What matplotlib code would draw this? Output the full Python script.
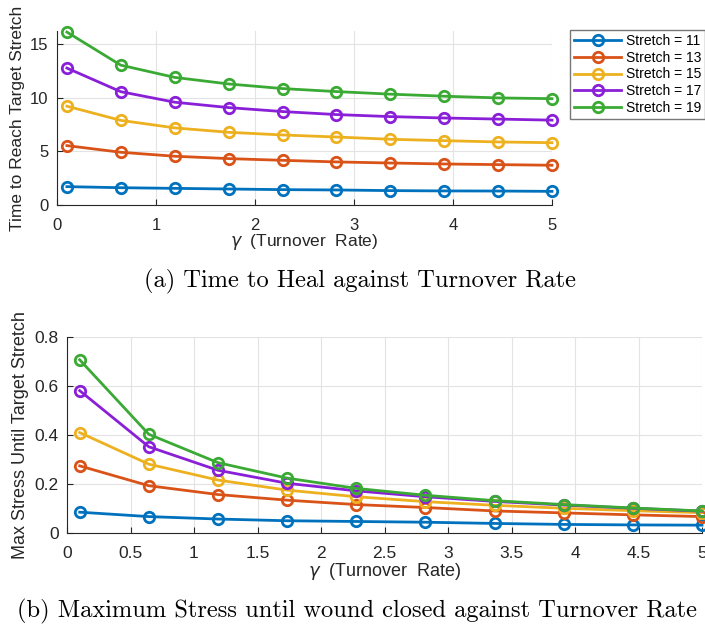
import matplotlib.pyplot as plt
import numpy as np

gamma = [0.1, 0.644, 1.189, 1.733, 2.278, 2.822, 3.367, 3.911, 4.456, 5.0]
stretch_labels = ["Stretch = 11", "Stretch = 13", "Stretch = 15", "Stretch = 17", "Stretch = 19"]
colors = ["#0072BD", "#D95319", "#EDB120", "#8A1FD8", "#3BAA35"]

# time to reach target stretch
time_heal = [
    [1.71, 1.61, 1.55, 1.49, 1.43, 1.40, 1.34, 1.31, 1.30, 1.27],
    [5.53, 4.91, 4.54, 4.32, 4.16, 4.01, 3.91, 3.82, 3.76, 3.70],
    [9.20, 7.88, 7.18, 6.77, 6.52, 6.33, 6.12, 5.99, 5.87, 5.80],
    [12.75, 10.55, 9.57, 9.07, 8.70, 8.42, 8.23, 8.10, 8.00, 7.90],
    [16.10, 13.02, 11.88, 11.27, 10.84, 10.56, 10.32, 10.13, 9.97, 9.90],
]

# max stress until target stretch
max_stress = [
    [0.085, 0.067, 0.057, 0.050, 0.047, 0.044, 0.039, 0.035, 0.033, 0.032],
    [0.274, 0.193, 0.157, 0.134, 0.116, 0.104, 0.090, 0.082, 0.074, 0.067],
    [0.410, 0.281, 0.216, 0.175, 0.148, 0.128, 0.113, 0.101, 0.091, 0.083],
    [0.581, 0.352, 0.256, 0.203, 0.172, 0.148, 0.129, 0.114, 0.101, 0.089],
    [0.707, 0.403, 0.287, 0.224, 0.182, 0.154, 0.132, 0.116, 0.102, 0.090],
]

W, H = 705, 628
fig = plt.figure(figsize=(W / 100, H / 100), dpi=100)
plt.rcParams['font.family'] = ['Liberation Sans', 'DejaVu Sans']


def style_axes(ax, fs):
    ax.grid(True, color='#e3e3e3', linewidth=0.8)
    ax.set_axisbelow(True)
    ax.spines['top'].set_visible(False)
    ax.spines['right'].set_visible(False)
    for s in ['left', 'bottom']:
        ax.spines[s].set_color('#262626')
        ax.spines[s].set_linewidth(0.8)
    ax.tick_params(direction='in', length=4, labelsize=fs, colors='#262626', pad=6)
    ax.tick_params(axis='x', pad=9)


# panel a
ax1 = fig.add_axes([57 / W, 1 - 205 / H, (552 - 57) / W, (205 - 31) / H])
for i in range(len(time_heal)):
    ax1.plot(gamma, time_heal[i], '-o', color=colors[i], lw=2, ms=7.5, mfc='none', mew=2,
             label=stretch_labels[i], clip_on=False)
ax1.set_xlim(0, 5)
ax1.set_ylim(0, 16.2)
ax1.set_xticks([0, 1, 2, 3, 4, 5])
ax1.set_yticks([0, 5, 10, 15])
style_axes(ax1, 12)
ax1.set_ylabel('Time to Reach Target Stretch', fontsize=12.5, color='#262626', labelpad=4)
ax1.set_xlabel(r'$\gamma$  (Turnover  Rate)', fontsize=12.5, color='#262626', labelpad=0)
ax1.legend(loc='upper left', bbox_to_anchor=(570 / W, 1 - 30 / H), bbox_transform=fig.transFigure,
           fontsize=10, frameon=True, fancybox=False, edgecolor='#555555', borderpad=0.3,
           labelspacing=0.19, handlelength=3.4, handletextpad=0.3, borderaxespad=0)

# panel b
ax2 = fig.add_axes([67 / W, 1 - 533 / H, (702 - 67) / W, (533 - 337) / H])
for i in range(len(max_stress)):
    ax2.plot(gamma, max_stress[i], '-o', color=colors[i], lw=2, ms=7.5, mfc='none', mew=2,
             clip_on=False)
ax2.set_xlim(0, 5)
ax2.set_ylim(0, 0.8)
ax2.set_xticks(np.arange(0, 5.01, 0.5))
ax2.set_xticklabels(['0', '0.5', '1', '1.5', '2', '2.5', '3', '3.5', '4', '4.5', '5'])
ax2.set_yticks([0, 0.2, 0.4, 0.6, 0.8])
ax2.set_yticklabels(['0', '0.2', '0.4', '0.6', '0.8'])
style_axes(ax2, 12.5)
ax2.set_ylabel('Max Stress Until Target Stretch', fontsize=13, color='#262626', labelpad=4)
ax2.set_xlabel(r'$\gamma$  (Turnover  Rate)', fontsize=13, color='#262626', labelpad=0)

fig.text(360 / W, 1 - 281 / H, '(a) Time to Heal against Turnover Rate', family='cmr10',
         fontsize=17.6, ha='center', va='center')
fig.text(357 / W, 1 - 611 / H, '(b) Maximum Stress until wound closed against Turnover Rate',
         family='cmr10', fontsize=17.6, ha='center', va='center')

fig.savefig('out.png', dpi=100)
